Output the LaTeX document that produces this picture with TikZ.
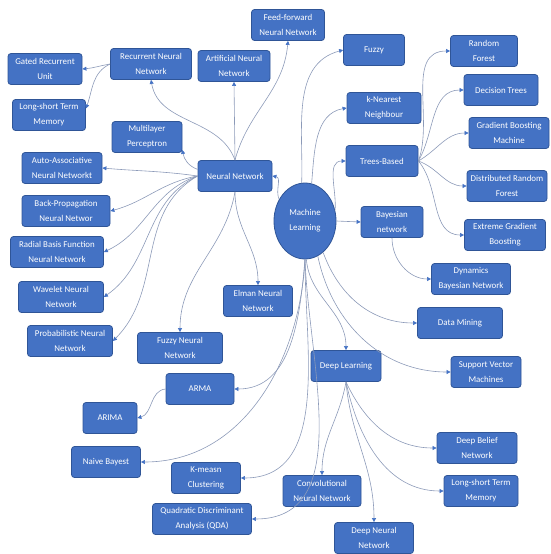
\documentclass[tikz,border=0pt]{standalone}
\usepackage{fontspec}
\setmainfont{Carlito}
\usetikzlibrary{shapes.geometric,arrows.meta}
\definecolor{boxblue}{HTML}{4472C4}
\definecolor{boxline}{HTML}{2F5597}
\definecolor{linkcol}{HTML}{8C9AB8}
\tikzset{
    box/.style={rectangle,rounded corners=3pt,fill=boxblue,draw=boxline,line width=0.8pt,
        text=white,align=center,minimum height=31,inner sep=2pt,
        font=\fontsize{8.9}{15}\selectfont},
    hub/.style={ellipse,fill=boxblue,draw=boxline,line width=0.8pt,text=white,align=center,
        minimum width=62,minimum height=76,inner sep=0pt,font=\fontsize{8.9}{15}\selectfont},
    link/.style={draw=linkcol,line width=0.6pt,-{Triangle[length=4pt,width=4pt,color=boxblue]}}
}
\begin{document}
\begin{tikzpicture}[x=1pt,y=1pt]
\useasboundingbox (0,0) rectangle (551,-554);
\node[hub] (ml) at (305,-221) {Machine\\Learning};
\node[box,minimum width=74] (nn) at (235,-176) {Neural Network};
\node[box,minimum width=74] (gru) at (45,-69) {Gated Recurrent\\Unit};
\node[box,minimum width=73] (lstma) at (49,-115) {Long-short Term\\Memory};
\node[box,minimum width=81] (rnn) at (151,-64) {Recurrent Neural\\Network};
\node[box,minimum width=72] (ann) at (234,-66) {Artificial Neural\\Network};
\node[box,minimum width=73] (ffn) at (288,-25) {Feed-forward\\Neural Network};
\node[box,minimum width=70] (mlp) at (147,-137) {Multilayer\\Perceptron};
\node[box,minimum width=80] (aan) at (62,-168) {Auto-Associative\\Neural Networkt};
\node[box,minimum width=88] (bpn) at (66,-211) {Back-Propagation\\Neural Networ};
\node[box,minimum width=93] (rbf) at (57,-252) {Radial Basis Function\\Neural Network};
\node[box,minimum width=85] (wnn) at (61,-297) {Wavelet Neural\\Network};
\node[box,minimum width=85] (pnn) at (70,-341) {Probabilistic Neural\\Network};
\node[box,minimum width=85] (fnn) at (180,-348) {Fuzzy Neural\\Network};
\node[box,minimum width=69] (elman) at (258,-301) {Elman Neural\\Network};
\node[box,minimum width=61] (fuzzy) at (374,-50) {Fuzzy};
\node[box,minimum width=74] (knn) at (384,-108) {k-Nearest\\Neighbour};
\node[box,minimum width=72] (trees) at (382,-161) {Trees-Based};
\node[box,minimum width=67] (rf) at (484,-51) {Random\\Forest};
\node[box,minimum width=74] (dt) at (501,-90) {Decision Trees};
\node[box,minimum width=80] (gbm) at (509,-133) {Gradient Boosting\\Machine};
\node[box,minimum width=80] (drf) at (507,-186) {Distributed Random\\Forest};
\node[box,minimum width=81] (xgb) at (505,-235) {Extreme Gradient\\Boosting};
\node[box,minimum width=62] (bayes) at (392,-222) {Bayesian\\network};
\node[box,minimum width=79] (dyn) at (471,-279) {Dynamics\\Bayesian Network};
\node[box,minimum width=85] (dm) at (460,-323) {Data Mining};
\node[box,minimum width=70] (svm) at (486,-372) {Support Vector\\Machines};
\node[box,minimum width=70] (dl) at (346,-366) {Deep Learning};
\node[box,minimum width=80] (dbelief) at (477,-448) {Deep Belief\\Network};
\node[box,minimum width=74] (lstmb) at (481,-491) {Long-short Term\\Memory};
\node[box,minimum width=78] (cnn) at (322,-491) {Convolutional\\Neural Network};
\node[box,minimum width=79] (dnn) at (374,-538) {Deep Neural\\Network};
\node[box,minimum width=68] (arma) at (200,-389) {ARMA};
\node[box,minimum width=54] (arima) at (110,-418) {ARIMA};
\node[box,minimum width=69] (naive) at (106,-462) {Naive Bayest};
\node[box,minimum width=69] (kmeans) at (206,-478) {K-measn\\Clustering};
\node[box,minimum width=99] (qda) at (202,-519) {Quadratic Discriminant\\Analysis (QDA)};

\draw[link] (ml.140) to[out=115,in=-10] (nn.east);
\draw[link] (ml.95) to[out=88,in=195] (fuzzy.west);
\draw[link] (ml.80) to[out=85,in=190] (knn.west);
\draw[link] (ml.20) to[out=85,in=180] (trees.west);
\draw[link] (ml.east) -- (bayes.west);
\draw[link] (bayes.south) to[out=-90,in=180] (dyn.west);
\draw[link] (ml.-60) to[out=-70,in=180] (dm.west);
\draw[link] (ml.-70) to[out=-78,in=180] (svm.west);
\draw[link] (ml.-88) to[out=-85,in=90] (dl.north);
\foreach \t/\o in {arma/-95,naive/-93,kmeans/-90,qda/-88}
{
    \draw[link] (ml.south) to[out=\o,in=0] (\t.east);
}
\draw[link] (nn.north) to[out=110,in=-80] (rnn.south);
\draw[link] (nn.north) -- (ann.south);
\draw[link] (nn.north) to[out=75,in=-95] (ffn.south);
\draw[link] (nn.170) to[out=160,in=-80] (mlp.-20);
\foreach \t/\o/\i in {aan/172/-5,bpn/190/15,rbf/198/25,wnn/205/35,pnn/210/45}
{
    \draw[link] (nn.west) to[out=\o,in=\i] (\t.east);
}
\draw[link] (nn.south) to[out=-100,in=90] (fnn.north);
\draw[link] (nn.south) to[out=-90,in=90] (elman.north);
\draw[link] (rnn.west) to[out=190,in=5] (gru.east);
\draw[link] (rnn.west) to[out=205,in=70] (lstma.10);
\draw[link] (arma.west) to[out=185,in=15] (arima.east);
\foreach \t/\o in {rf/70,dt/60,gbm/30,drf/-20,xgb/-50}
{
    \draw[link] (trees.east) to[out=\o,in=180] (\t.west);
}
\draw[link] (dl.south) to[out=-100,in=90] (cnn.north);
\draw[link] (dl.south) to[out=-85,in=90] (dnn.north);
\draw[link] (dl.south) to[out=-65,in=180] (dbelief.west);
\draw[link] (dl.south) to[out=-78,in=180] (lstmb.west);
\end{tikzpicture}
\end{document}
